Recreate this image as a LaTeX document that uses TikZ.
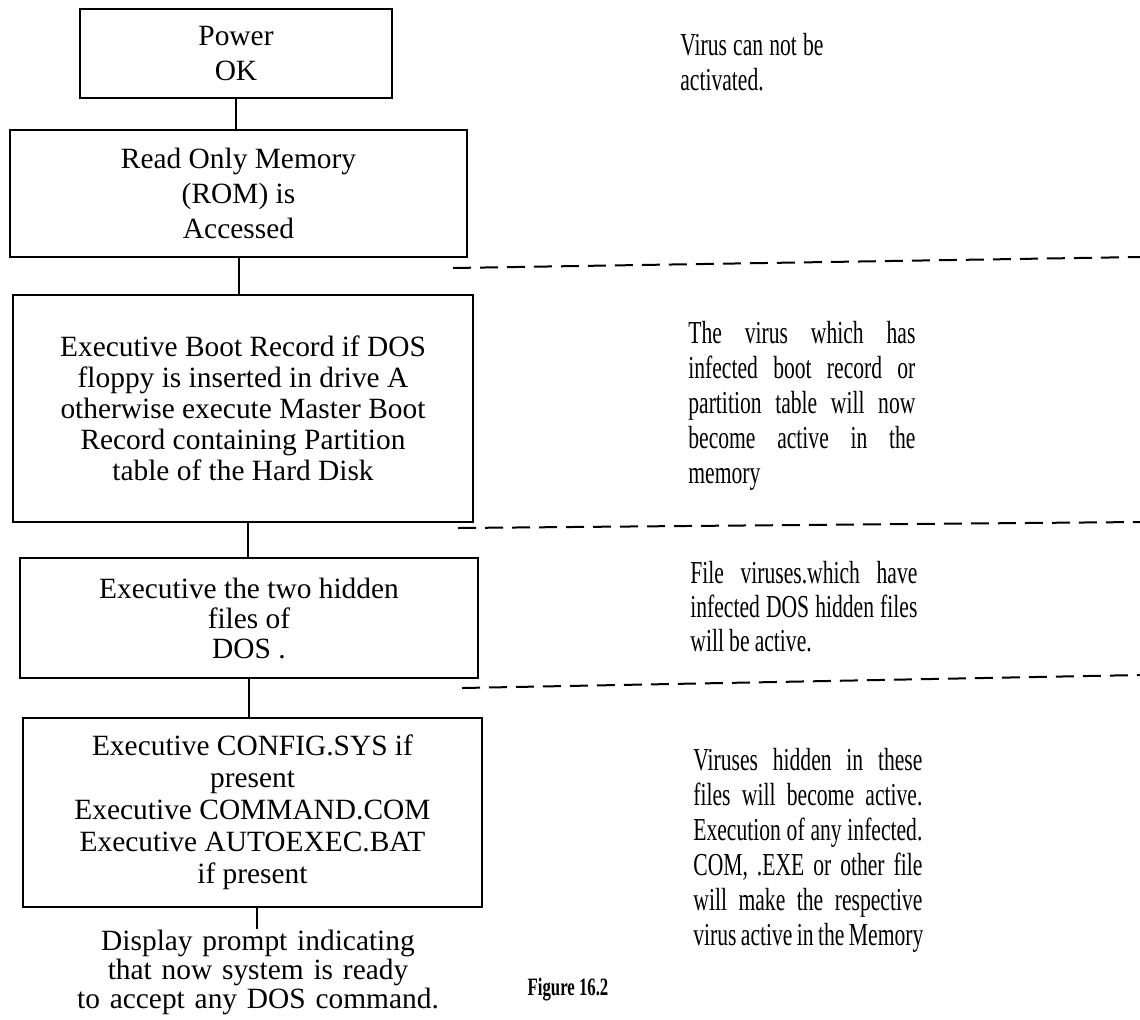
\documentclass[tikz,border=0pt]{standalone}
\usepackage{fontspec}
\setmainfont{Liberation Serif}
\newfontfamily\notefont[FakeStretch=0.675]{Liberation Serif}
\newfontfamily\capfont[FakeStretch=0.67]{Liberation Serif}
% word gaps for the notes: a fixed one, and one that spreads a line
\newcommand\tgap{\hskip 2.6pt\relax}
\newcommand\gap{\hskip 2.2pt plus 1fill\relax}
% one line of a note, spread to the full width of its column
\newcommand\spreadline[2]{\leavevmode\hbox to #1{#2}}
\begin{document}
\begin{tikzpicture}[x=0.5pt,y=-0.5pt,
  stepbox/.style={draw, line width=1.3pt, inner sep=0pt, align=center},
  link/.style={line width=1pt},
  divider/.style={line width=1pt, dash pattern=on 9pt off 4.5pt},
  note/.style={anchor=base west, inner sep=0pt, align=left,
    font=\notefont\fontsize{16}{17.5}\selectfont},
]
\fill[white] (0,0) rectangle (1140,1019);
\useasboundingbox (0,0) rectangle (1140,1019);

% boot sequence
\node[stepbox, minimum width=156pt, minimum height=44.5pt,
  font=\fontsize{14.7}{17.5}\selectfont] (power) at (236,53.5) {Power\\OK};
\node[stepbox, minimum width=228.5pt, minimum height=63.5pt,
  font=\fontsize{14.7}{17.5}\selectfont] (rom) at (238.5,193.5)
  {Read Only Memory\\(ROM) is\\Accessed};
\node[stepbox, minimum width=230pt, minimum height=113.5pt,
  font=\fontsize{14.7}{15.5}\selectfont] (boot) at (243,408.5)
  {Executive Boot Record if DOS\\floppy is inserted in drive A\\otherwise execute Master Boot\\Record containing Partition\\table of the Hard Disk};
\node[stepbox, minimum width=229pt, minimum height=60pt,
  font=\fontsize{14.7}{15}\selectfont] (hidden) at (249,618)
  {Executive the two hidden\\files of\\DOS .};
\node[stepbox, minimum width=229.5pt, minimum height=94.5pt,
  font=\fontsize{14.7}{16}\selectfont] (config) at (252.5,812.5)
  {Executive CONFIG.SYS if\\present\\Executive COMMAND.COM\\Executive AUTOEXEC.BAT\\if present};
\node[inner sep=0pt, text width=200pt, align=center, anchor=base,
  font=\fontsize{14.7}{14.5}\selectfont] (prompt) at (258,950)
  {Display prompt indicating\\that now system is ready\\to accept any DOS command.};

\draw[link] (power.south) -- (power.south |- rom.north);
\draw[link] (rom.south) -- (rom.south |- boot.north);
\draw[link] (boot.south) ++(5,0) coordinate (b3) -- (b3 |- hidden.north);
\draw[link] (hidden.south) -- (hidden.south |- config.north);
\draw[link] (config.south) ++(4,0) coordinate (b5) -- (b5 |- prompt.north);

% separators between the stages
\draw[divider] (453,268) -- (1140,257);
\draw[divider] (458,528) -- (1140,522);
\draw[divider] (462,688) -- (1140,675);

% notes on the right
\node[note, text width=90pt] (n1) at (680,55)
  {\spreadline{71.5pt}{Virus\gap can\gap not\gap be}\\activated.};
\node[note, text width=113.5pt] (n2) at (688,343)
  {\spreadline{113.5pt}{The\gap virus\gap which\gap has}\\
   \spreadline{113.5pt}{infected\gap boot\gap record\gap or}\\
   \spreadline{113.5pt}{partition\gap table\gap will\gap now}\\
   \spreadline{113.5pt}{become\gap active\gap in\gap the}\\
   memory};
\node[note, text width=113.5pt, font=\notefont\fontsize{16}{17}\selectfont] (n3) at (690,583)
  {\spreadline{113.5pt}{File\gap viruses.which\gap have}\\
   \spreadline{113.5pt}{infected\gap DOS\gap hidden\gap files}\\
   will\tgap be\tgap active.};
\node[note, text width=114.5pt] (n4) at (693,770)
  {\spreadline{114.5pt}{Viruses\gap hidden\gap in\gap these}\\
   \spreadline{114.5pt}{files\gap will\gap become\gap active.}\\
   \spreadline{114.5pt}{Execution\gap of\gap any\gap infected.}\\
   \spreadline{114.5pt}{COM,\gap .EXE\gap or\gap other\gap file}\\
   \spreadline{114.5pt}{will\gap make\gap the\gap respective}\\
   \spreadline{114.5pt}{virus\gap active\gap in\gap the\gap Memory}};

\node[inner sep=0pt, anchor=base, font=\capfont\bfseries\fontsize{12.5}{15}\selectfont]
  (caption) at (568,995) {Figure 16.2};
\end{tikzpicture}
\end{document}
